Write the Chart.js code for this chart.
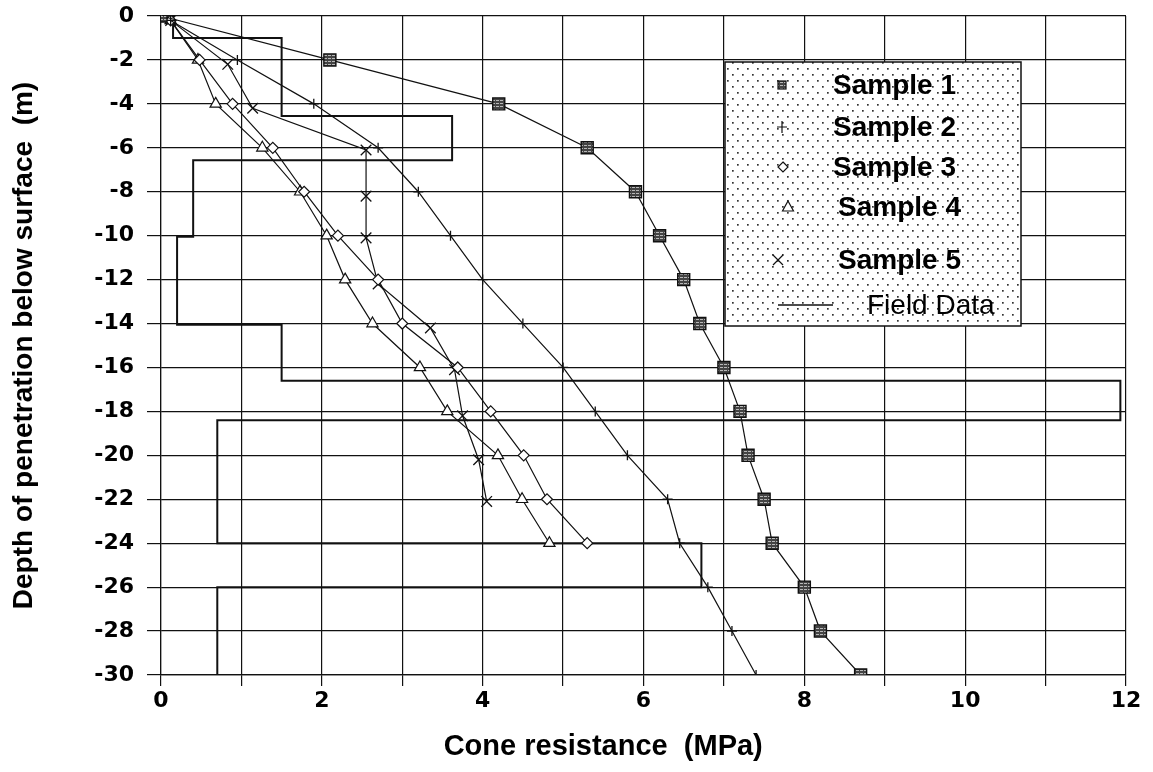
<!DOCTYPE html>
<html>
<head>
<meta charset="utf-8">
<script src="https://cdn.jsdelivr.net/npm/chart.js@4.4.1/dist/chart.umd.min.js"></script>
<style>
  html, body { margin: 0; padding: 0; background: #fff; }
  #wrap { width: 1153px; height: 772px; position: relative; }
</style>
</head>
<body>
<div id="wrap"><canvas id="c" width="1153" height="772"></canvas></div>
<script>
// ---- data ----
const depths1 = [0, -2, -4, -6, -8, -10, -12, -14, -16, -18, -20, -22, -24, -26, -28, -30];
const sample1 = [0, 2.1, 4.2, 5.3, 5.9, 6.2, 6.5, 6.7, 7.0, 7.2, 7.3, 7.5, 7.6, 8.0, 8.2, 8.7];

const depths2 = [-0.2, -2, -4, -6, -8, -10, -12, -14, -16, -18, -20, -22, -24, -26, -28, -30];
const sample2 = [0.12, 0.95, 1.9, 2.7, 3.2, 3.6, 4.0, 4.5, 5.0, 5.4, 5.8, 6.3, 6.45, 6.8, 7.1, 7.4];

const depths34 = [-0.2, -2, -4, -6, -8, -10, -12, -14, -16, -18, -20, -22, -24];
const sample3 = [0.12, 0.48, 0.89, 1.39, 1.78, 2.2, 2.7, 3.0, 3.69, 4.1, 4.51, 4.8, 5.3];
const sample4 = [0.12, 0.46, 0.68, 1.26, 1.73, 2.06, 2.29, 2.63, 3.22, 3.56, 4.19, 4.49, 4.83];

const depths5 = [-0.2, -2.2, -4.2, -6.1, -8.2, -10.1, -12.2, -14.2, -16.1, -18.2, -20.2, -22.1];
const sample5 = [0.12, 0.83, 1.14, 2.55, 2.55, 2.55, 2.7, 3.35, 3.65, 3.75, 3.95, 4.05];

// field data: resistance of each layer and the depth of its top (stepped profile)
const fieldResistance = [0.15, 1.5, 3.62, 0.4, 0.2, 1.5, 11.93, 0.7, 6.72, 0.7, 0.7];
const fieldDepth = [0, -1, -4.55, -6.57, -10.05, -14.06, -16.6, -18.4, -24, -26, -30];

const seriesLabels = ['Sample 1', 'Sample 2', 'Sample 3', 'Sample 4', 'Sample 5', 'Field Data'];
const xTickValues = [0, 2, 4, 6, 8, 10, 12];
const xTitle = 'Cone resistance  (MPa)';
const yTitle = 'Depth of penetration below surface  (m)';

function pts(xs, ys) { return xs.map((x, i) => ({ x: x, y: ys[i] })); }

// small brick-like pattern for Sample 1 squares
function brickPattern() {
  const p = document.createElement('canvas');
  p.width = 4; p.height = 3;
  const g = p.getContext('2d');
  g.fillStyle = '#444'; g.fillRect(0, 0, 4, 3);
  g.fillStyle = '#b8b8b8'; g.fillRect(0, 1, 3, 1);
  return document.getElementById('c').getContext('2d').createPattern(p, 'repeat');
}
function dotPattern() {
  const p = document.createElement('canvas');
  p.width = 10; p.height = 12;
  const g = p.getContext('2d');
  g.fillStyle = '#ffffff'; g.fillRect(0, 0, 10, 12);
  g.fillStyle = '#333333';
  g.fillRect(2, 2, 1.7, 1.7);
  g.fillRect(7, 8, 1.7, 1.7);
  return document.getElementById('c').getContext('2d').createPattern(p, 'repeat');
}
const brick = brickPattern();

const ink = '#111';
const lineW = 1.2;

const datasets = [
  { label: seriesLabels[0], data: pts(sample1, depths1), pointStyle: 'rect', pointRadius: 8.5,
    pointBackgroundColor: brick, pointBorderColor: ink, pointBorderWidth: 1.4 },
  { label: seriesLabels[1], data: pts(sample2, depths2), pointStyle: 'cross', pointRadius: 5,
    pointBorderColor: ink, pointBorderWidth: 1.3 },
  { label: seriesLabels[2], data: pts(sample3, depths34), pointStyle: 'rectRot', pointRadius: 5.5,
    pointBackgroundColor: '#fff', pointBorderColor: ink, pointBorderWidth: 1.2 },
  { label: seriesLabels[3], data: pts(sample4, depths34), pointStyle: 'triangle', pointRadius: 6.5,
    pointBackgroundColor: '#fff', pointBorderColor: ink, pointBorderWidth: 1.2 },
  { label: seriesLabels[4], data: pts(sample5, depths5), pointStyle: 'crossRot', pointRadius: 7.5,
    pointBorderColor: ink, pointBorderWidth: 1.3 },
  { label: seriesLabels[5], data: pts(fieldResistance, fieldDepth), pointRadius: 0,
    stepped: 'after', borderWidth: 2 }
].map(d => Object.assign({ borderColor: ink, borderWidth: lineW, showLine: true, fill: false, tension: 0 }, d));

// legend drawn inside the plot, with dotted background
const legendBox = {
  id: 'legendBox',
  afterDatasetsDraw(chart) {
    const ctx = chart.ctx;
    const L = 725, T = 62, R = 1021, B = 326;
    ctx.save();
    ctx.fillStyle = dotPattern();
    ctx.fillRect(L, T, R - L, B - T);
    ctx.strokeStyle = ink; ctx.lineWidth = 1.5;
    ctx.strokeRect(L, T, R - L, B - T);
    const rows = [85, 127, 167, 207, 260, 305];
    const mx = [782, 782, 783, 788, 778, 0];
    const tx = [833, 833, 833, 838, 838, 867];
    ctx.strokeStyle = ink; ctx.lineWidth = 1.2;
    chart.data.datasets.forEach((ds, i) => {
      const y = rows[i];
      const x = mx[i];
      ctx.beginPath();
      if (i === 0) {
        ctx.fillStyle = brick; ctx.fillRect(x - 4, y - 4, 8, 8); ctx.strokeRect(x - 4, y - 4, 8, 8);
      } else if (i === 1) {
        ctx.moveTo(x - 5, y); ctx.lineTo(x + 5, y); ctx.moveTo(x, y - 6); ctx.lineTo(x, y + 6); ctx.stroke();
      } else if (i === 2) {
        ctx.moveTo(x, y - 5); ctx.lineTo(x + 5, y); ctx.lineTo(x, y + 5); ctx.lineTo(x - 5, y); ctx.closePath();
        ctx.fillStyle = '#fff'; ctx.fill(); ctx.stroke();
      } else if (i === 3) {
        ctx.moveTo(x, y - 6); ctx.lineTo(x + 5.5, y + 4); ctx.lineTo(x - 5.5, y + 4); ctx.closePath();
        ctx.fillStyle = '#fff'; ctx.fill(); ctx.stroke();
      } else if (i === 4) {
        ctx.moveTo(x - 5, y - 5); ctx.lineTo(x + 5, y + 5); ctx.moveTo(x + 5, y - 5); ctx.lineTo(x - 5, y + 5); ctx.stroke();
      } else {
        ctx.lineWidth = 1.5; ctx.moveTo(778, y); ctx.lineTo(833, y); ctx.stroke();
      }
      ctx.fillStyle = '#000';
      ctx.textBaseline = 'middle';
      ctx.textAlign = 'left';
      ctx.font = (i === 5 ? '' : 'bold ') + '28px "Liberation Sans", Arial, sans-serif';
      ctx.fillText(ds.label, tx[i], y + 1);
    });
    ctx.restore();
  }
};

new Chart(document.getElementById('c'), {
  type: 'scatter',
  data: { datasets: datasets },
  options: {
    responsive: false,
    animation: false,
    devicePixelRatio: 1,
    layout: { padding: { top: 16, right: 27, bottom: 0, left: 0 } },
    plugins: { legend: { display: false }, tooltip: { enabled: false } },
    scales: {
      x: {
        type: 'linear', min: 0, max: 12,
        afterFit(s) { s.height = 97; },
        ticks: {
          stepSize: 1, autoSkip: false, maxRotation: 0, padding: 2, color: '#000',
          font: { family: '"DejaVu Sans", sans-serif', size: 22, weight: 'bold' },
          callback: v => xTickValues.includes(v) ? String(v) : ''
        },
        grid: { color: ink, lineWidth: 1.2, tickLength: 11, drawTicks: true },
        border: { display: true, color: ink, width: 1.2 },
        title: { display: true, text: xTitle + '\u00a0'.repeat(10), color: '#000', padding: { top: 0, bottom: 8 },
          font: { family: '"Liberation Sans", Arial, sans-serif', size: 29, weight: 'bold' } }
      },
      y: {
        type: 'linear', min: -30, max: 0,
        afterFit(s) { s.width = 161; },
        ticks: {
          stepSize: 2, autoSkip: false, padding: 13, color: '#000',
          font: { family: '"DejaVu Sans", sans-serif', size: 22, weight: 'bold', lineHeight: 0.1 }
        },
        grid: { color: ink, lineWidth: 1.2, tickLength: 14, drawTicks: true },
        border: { display: true, color: ink, width: 1.2 },
        title: { display: true, text: yTitle, color: '#000', padding: { top: 7, bottom: 0 },
          font: { family: '"Liberation Sans", Arial, sans-serif', size: 28, weight: 'bold' } }
      }
    }
  },
  plugins: [legendBox]
});
</script>
</body>
</html>
